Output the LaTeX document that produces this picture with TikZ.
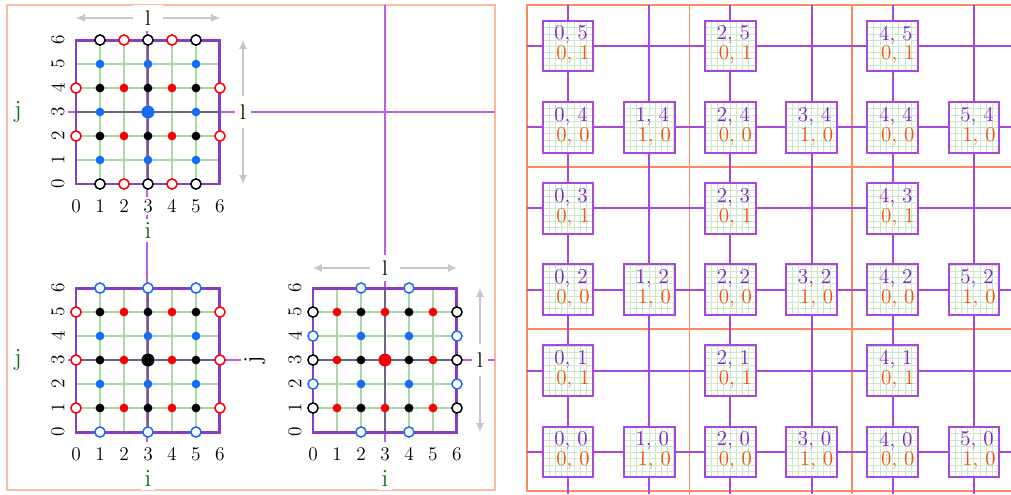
\documentclass[tikz,border=0pt]{standalone}
\usepackage{tikz}
\usetikzlibrary{arrows.meta}
\definecolor{panelSalmon}{RGB}{250,188,165}
\definecolor{tileOrange}{RGB}{246,140,95}
\definecolor{axisPurple}{RGB}{185,95,232}
\definecolor{cellPurple}{RGB}{168,72,218}
\definecolor{framePurple}{RGB}{135,62,195}
\definecolor{txtPurple}{RGB}{128,30,200}
\definecolor{txtOrange}{RGB}{242,82,18}
\definecolor{latticeGreen}{RGB}{172,216,166}
\definecolor{fineGreen}{RGB}{205,232,200}
\definecolor{midGray}{RGB}{110,102,128}
\definecolor{labelGreen}{RGB}{28,112,28}
\definecolor{dotBlue}{RGB}{25,108,246}
\definecolor{dotRed}{RGB}{246,0,6}
\definecolor{spanGray}{RGB}{200,200,200}

% grid lines, frame and axis numbers of one 6x6 lattice
\newcommand{\latticebase}[1]{%
  \foreach \k in {1,2,4,5} {
    \draw[gridline] (\k,0) -- (\k,6);
    \draw[gridline] (0,\k) -- (6,\k);
  }
  \draw[midline] (3,0) -- (3,6);
  \draw[midline] (0,3) -- (6,3);
  \draw[frame] (0,0) rectangle (6,6);
  \foreach \k in {0,...,6} {
    \node[numlabel] (#1-x\k) at (\k,-0.92) {\k};
    \node[numlabel, rotate=90] (#1-y\k) at (-0.75,\k) {\k};
  }
  \node[letter, text=labelGreen] (#1-i) at (3,-1.92) {i};
}

\begin{document}
\begin{tikzpicture}[x=0.02cm, y=-0.02cm,
    panel/.style     = {draw=panelSalmon, line width=1.1pt},
    tileline/.style  = {draw=tileOrange, line width=1pt},
    axis/.style      = {draw=axisPurple, line width=0.9pt},
    cellline/.style  = {draw=cellPurple, line width=1.2pt},
    gridline/.style  = {draw=latticeGreen, line width=1.4pt},
    midline/.style   = {draw=midGray, line width=1.3pt},
    frame/.style     = {draw=framePurple, line width=1.7pt},
    numlabel/.style  = {fill=white, inner sep=1.5pt, font=\fontsize{11}{13}\selectfont},
    letter/.style    = {fill=white, inner sep=2pt, font=\fontsize{14}{16}\selectfont},
    span/.style      = {draw=spanGray, line width=0.6pt, {Latex[length=5pt,width=4.5pt]}-{Latex[length=5pt,width=4.5pt]}},
    spanlabel/.style = {fill=white, inner xsep=3pt, inner ysep=5pt, font=\fontsize{12}{14}\selectfont},
    kdot/.style  = {fill=black, radius=2.5pt},
    bdot/.style  = {fill=dotBlue, radius=2.5pt},
    rdot/.style  = {fill=dotRed, radius=2.5pt},
    kring/.style = {draw=black, fill=white, line width=0.85pt, radius=2.9pt},
    bring/.style = {draw=dotBlue, fill=white, line width=0.85pt, radius=2.9pt},
    rring/.style = {draw=dotRed, fill=white, line width=0.85pt, radius=2.9pt},
    bigdot/.style = {radius=3.7pt},
    cellbox/.style   = {fill=white, inner sep=0pt, minimum size=1cm},
    finegrid/.style  = {draw=fineGreen, line width=0.4pt, step=0.125cm},
    cellframe/.style = {draw=cellPurple, line width=1.1pt},
    ijtext/.style    = {inner sep=0pt, text=txtPurple, font=\fontsize{12}{14}\selectfont},
    abtext/.style    = {inner sep=0pt, text=txtOrange, font=\fontsize{12}{14}\selectfont}
  ]
  \useasboundingbox (0,0) rectangle (1011,494);
  \clip (0,0) rectangle (1011,494);

  %% left panel
  \draw[panel] (7,5) rectangle (495,490);
  \draw[axis] (68,112) -- (495,112);
  \draw[axis] (147,30) -- (147,442);
  \draw[axis] (385,5) -- (385,442);
  \draw[axis] (68,360) -- (246,360);
  \draw[axis] (457,360) -- (495,360);

  % top left lattice
  \begin{scope}[shift={(76,184)}, x=0.48cm, y=0.48cm]
    \latticebase{tl}
    \node[letter, text=labelGreen] (tl-j) at (-2.42,3) {j};
    \foreach \p in {(1,0),(3,0),(5,0),(1,6),(3,6),(5,6)} \draw[kring] \p circle;
    \foreach \p in {(2,0),(4,0),(2,6),(4,6),(0,2),(0,4),(6,2),(6,4)} \draw[rring] \p circle;
    \foreach \p in {(1,1),(3,1),(5,1),(1,3),(5,3),(1,5),(3,5),(5,5)} \fill[bdot] \p circle;
    \foreach \p in {(1,2),(3,2),(5,2),(1,4),(3,4),(5,4)} \fill[kdot] \p circle;
    \foreach \p in {(2,2),(4,2),(2,4),(4,4)} \fill[rdot] \p circle;
    \fill[bdot, bigdot] (3,3) circle;
  \end{scope}

  % bottom left lattice
  \begin{scope}[shift={(76,432)}, x=0.48cm, y=0.48cm]
    \latticebase{bl}
    \node[letter, text=labelGreen] (bl-j) at (-2.42,3) {j};
    \foreach \p in {(1,0),(3,0),(5,0),(1,6),(3,6),(5,6)} \draw[bring] \p circle;
    \foreach \p in {(0,1),(0,3),(0,5),(6,1),(6,3),(6,5)} \draw[rring] \p circle;
    \foreach \p in {(1,1),(5,1),(1,3),(5,3),(1,5),(3,5),(5,5),(3,1)} \fill[kdot] \p circle;
    \foreach \p in {(2,1),(4,1),(2,3),(4,3),(2,5),(4,5)} \fill[rdot] \p circle;
    \foreach \p in {(1,2),(3,2),(5,2),(1,4),(3,4),(5,4)} \fill[bdot] \p circle;
    \fill[kdot, bigdot] (3,3) circle;
  \end{scope}

  % bottom right lattice
  \begin{scope}[shift={(313,432)}, x=0.48cm, y=0.48cm]
    \latticebase{br}
    \node[letter, rotate=90] (br-j) at (-2.42,3) {j};
    \foreach \p in {(2,0),(4,0),(2,6),(4,6),(0,2),(0,4),(6,2),(6,4)} \draw[bring] \p circle;
    \foreach \p in {(0,1),(0,3),(0,5),(6,1),(6,3),(6,5)} \draw[kring] \p circle;
    \foreach \p in {(1,1),(3,1),(5,1),(1,3),(5,3),(1,5),(3,5),(5,5)} \fill[rdot] \p circle;
    \foreach \p in {(2,1),(4,1),(2,3),(4,3),(2,5),(4,5)} \fill[kdot] \p circle;
    \foreach \p in {(2,2),(4,2),(2,4),(4,4)} \fill[bdot] \p circle;
    \fill[rdot, bigdot] (3,3) circle;
  \end{scope}

  % extents l
  \draw[span] (76,18) -- node[spanlabel, inner xsep=7pt, inner ysep=3pt] (tl-lx) {l} (220,18);
  \draw[span] (243,40) -- node[spanlabel] (tl-ly) {l} (243,184);
  \draw[span] (313,268) -- node[spanlabel, inner xsep=7pt, inner ysep=3pt] (br-lx) {l} (457,268);
  \draw[span] (480,288) -- node[spanlabel] (br-ly) {l} (480,432);

  %% right panel
  \draw[tileline] (689.4,5) -- (689.4,494);
  \draw[tileline] (851.8,5) -- (851.8,494);
  \draw[tileline] (527,167) -- (1011,167);
  \draw[tileline] (527,329) -- (1011,329);
  \draw[tileline] (527,5) rectangle (1014.2,491);
  \foreach \k in {0,...,5} {
    \draw[cellline] ({568+81.2*\k},5) -- ({568+81.2*\k},494);
    \draw[cellline] (527,{46+81.2*\k}) -- (1011,{46+81.2*\k});
  }
  \foreach \r in {0,...,5} {
    \foreach \c in {0,...,5} {
      \pgfmathtruncatemacro{\j}{5-\r}
      \pgfmathtruncatemacro{\shown}{(mod(\j,2)==0 || mod(\c,2)==0) ? 1 : 0}
      \ifnum\shown=1
        \pgfmathsetmacro{\cx}{568+81.2*\c}
        \pgfmathsetmacro{\cy}{46+81.2*\r}
        \pgfmathtruncatemacro{\a}{mod(\c,2)}
        \pgfmathtruncatemacro{\b}{mod(\j,2)}
        \node[cellbox] (cell-\c-\j) at (\cx,\cy) {};
        \draw[finegrid, shift={(cell-\c-\j.south west)}] (0,0) grid (1cm,1cm);
        \draw[cellframe] (cell-\c-\j.south west) rectangle (cell-\c-\j.north east);
        \node[ijtext] (ij-\c-\j) at (\cx+3,\cy-11) {\c, \j};
        \node[abtext] (ab-\c-\j) at (\cx+5,\cy+9) {\a, \b};
      \fi
    }
  }
\end{tikzpicture}
\end{document}
